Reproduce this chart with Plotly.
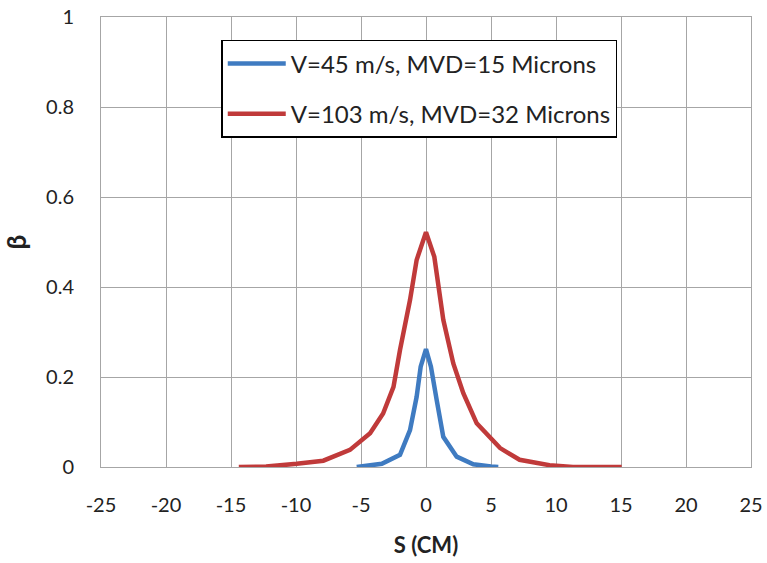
import plotly.graph_objects as go

# Series 1: V=45 m/s, MVD=15 Microns
s1_x = [-5.33, -3.4, -2.0, -1.23, -0.72, -0.41, 0.0, 0.38, 0.82, 1.33, 2.36, 3.64, 5.0, 5.56]
s1_y = [0.0, 0.007, 0.027, 0.082, 0.156, 0.223, 0.262, 0.223, 0.149, 0.067, 0.023, 0.006, 0.001, 0.0]

# Series 2: V=103 m/s, MVD=32 Microns
s2_x = [-14.4, -12.3, -9.95, -7.9, -5.85, -4.3, -3.3, -2.5, -2.0, -1.23, -0.72, 0.0,
        0.64, 1.33, 2.1, 2.87, 3.9, 4.92, 5.7, 7.2, 9.5, 11.3, 15.05]
s2_y = [0.0, 0.001, 0.007, 0.014, 0.038, 0.075, 0.119, 0.178, 0.26, 0.371, 0.46, 0.522,
        0.467, 0.327, 0.23, 0.164, 0.097, 0.067, 0.042, 0.016, 0.004, 0.0, 0.0]

names = ["V=45 m/s, MVD=15 Microns", "V=103 m/s, MVD=32 Microns"]
colors = ["#3F7BC1", "#C03A3A"]

x_ticks = [-25, -20, -15, -10, -5, 0, 5, 10, 15, 20, 25]
y_ticks = [0, 0.2, 0.4, 0.6, 0.8, 1]

fig = go.Figure()
for i, (xs, ys) in enumerate([(s1_x, s1_y), (s2_x, s2_y)]):
    fig.add_trace(go.Scatter(x=xs, y=ys, mode="lines", name=names[i],
                             legendgroup=f"g{i}",
                             line=dict(color=colors[i], width=4.5)))

font_family = "Lato, 'Open Sans', sans-serif"
fig.update_layout(
    width=767, height=563,
    margin=dict(l=101, r=16, t=17, b=96),
    paper_bgcolor="white", plot_bgcolor="white",
    font=dict(family=font_family, size=20, color="#222"),
    showlegend=True,
    legend=dict(x=0.185, y=0.949, xanchor="left", yanchor="top",
                bgcolor="white", bordercolor="black", borderwidth=1.5,
                font=dict(size=24, color="#222"), tracegroupgap=16,
                itemwidth=58),
    xaxis=dict(range=[-25, 25], tickvals=x_ticks, ticktext=[str(v) for v in x_ticks],
               automargin=False,
               showgrid=True, gridcolor="#A6A6A6", gridwidth=1,
               showline=True, linecolor="#A6A6A6", linewidth=1, mirror=True,
               zeroline=False, ticks="", ticklabelstandoff=20,
               title=dict(text="<b>S (CM)</b>", font=dict(size=22), standoff=22)),
    yaxis=dict(range=[0, 1], tickvals=y_ticks, ticktext=["0", "0.2", "0.4", "0.6", "0.8", "1"],
               automargin=False,
               showgrid=True, gridcolor="#A6A6A6", gridwidth=1,
               showline=True, linecolor="#A6A6A6", linewidth=1, mirror=True,
               zeroline=False, ticks="", ticklabelstandoff=22,
               title=dict(text="<b>β</b>", font=dict(size=26), standoff=24)),
)

fig.write_html("out.html")
